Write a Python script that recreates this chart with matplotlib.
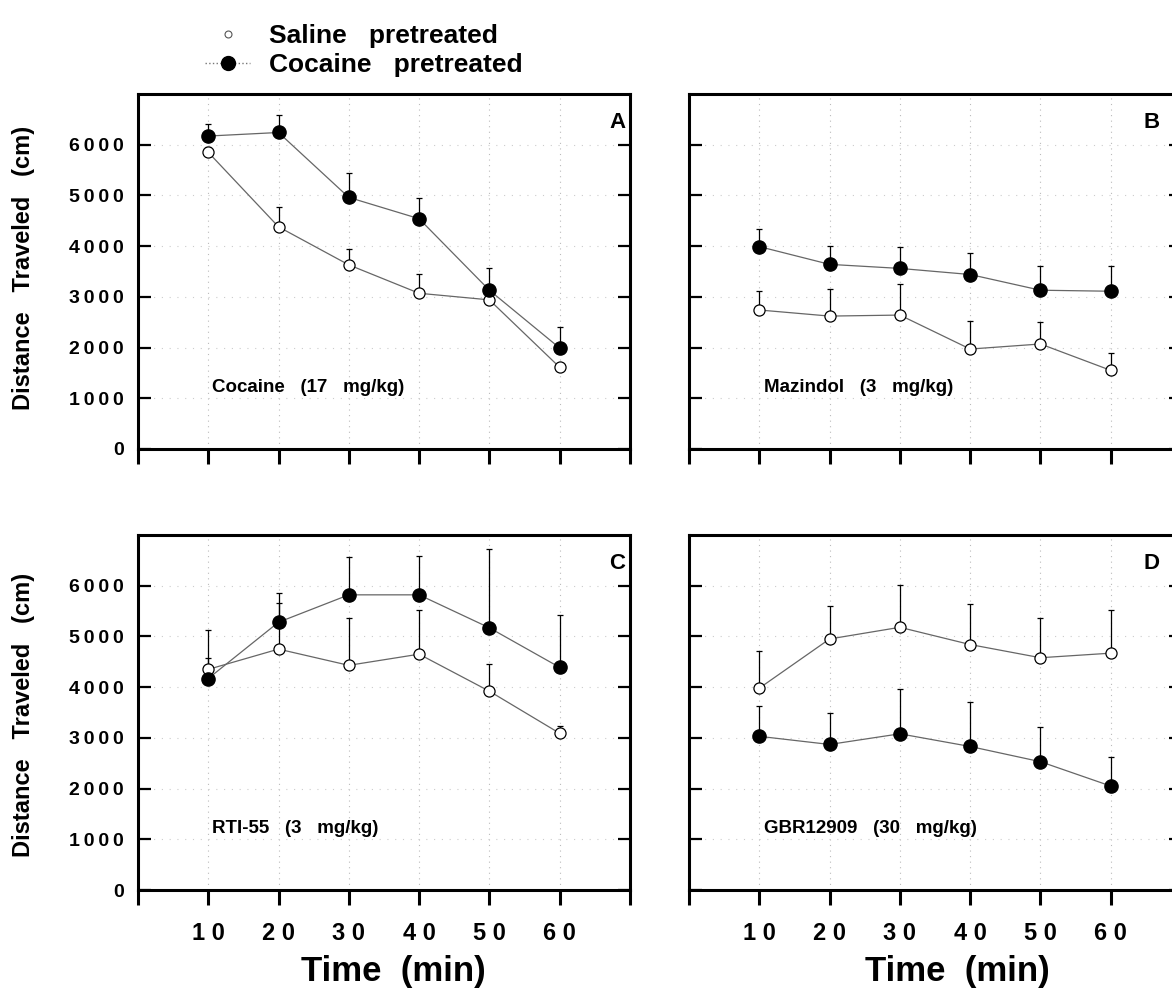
import matplotlib
matplotlib.use("Agg")
import matplotlib.pyplot as plt
from matplotlib.lines import Line2D
import numpy as np

plt.rcParams['font.family'] = ['Liberation Sans', 'DejaVu Sans']
plt.rcParams['font.weight'] = 'bold'

# time points (min)
times = [10, 20, 30, 40, 50, 60]
xtick_labels = ["1 0", "2 0", "3 0", "4 0", "5 0", "6 0"]
yticks = [0, 1000, 2000, 3000, 4000, 5000, 6000]

# distance traveled (cm), means and upper error bars
a_saline = [5850, 4380, 3630, 3070, 2940, 1610]
a_saline_err = [100, 390, 310, 380, 60, 60]
a_cocaine = [6170, 6240, 4960, 4540, 3130, 1990]
a_cocaine_err = [240, 340, 480, 400, 445, 420]

b_saline = [2740, 2620, 2640, 1970, 2070, 1550]
b_saline_err = [380, 530, 610, 560, 440, 340]
b_cocaine = [3990, 3640, 3560, 3440, 3130, 3110]
b_cocaine_err = [350, 370, 430, 430, 470, 490]

c_saline = [4350, 4750, 4430, 4650, 3920, 3090]
c_saline_err = [780, 910, 940, 880, 530, 150]
c_cocaine = [4170, 5280, 5820, 5820, 5170, 4390]
c_cocaine_err = [400, 580, 740, 770, 1560, 1040]

d_saline = [3980, 4950, 5180, 4840, 4580, 4670]
d_saline_err = [740, 650, 830, 800, 780, 850]
d_cocaine = [3030, 2870, 3080, 2830, 2530, 2050]
d_cocaine_err = [590, 620, 890, 870, 690, 570]

letters = ["A", "B", "C", "D"]
drugs = ["Cocaine   (17   mg/kg)", "Mazindol   (3   mg/kg)",
         "RTI-55   (3   mg/kg)", "GBR12909   (30   mg/kg)"]

fig = plt.figure(figsize=(11.72, 9.9), dpi=100)

W, H = 0.4198, 0.3586
boxes = [[0.1177, 0.5465, W, H], [0.5879, 0.5465, W, H],
         [0.1177, 0.1010, W, H], [0.5879, 0.1010, W, H]]
letter_x = [0.974, 0.94, 0.974, 0.94]

panels = [(a_saline, a_saline_err, a_cocaine, a_cocaine_err),
          (b_saline, b_saline_err, b_cocaine, b_cocaine_err),
          (c_saline, c_saline_err, c_cocaine, c_cocaine_err),
          (d_saline, d_saline_err, d_cocaine, d_cocaine_err)]

for i, (sal, sal_e, coc, coc_e) in enumerate(panels):
    ax = fig.add_axes(boxes[i])
    ax.set_xlim(0, 70)
    ax.set_ylim(0, 7000)

    # faint dotted grid like the scanned original
    for t in times:
        ax.axvline(t, color='#bbbbbb', ls=(0, (1, 4)), lw=0.8, zorder=0)
    for v in yticks[1:]:
        ax.axhline(v, color='#cccccc', ls=(0, (1, 6)), lw=0.8, zorder=0)

    ax.errorbar(times, sal, yerr=[np.zeros(6), sal_e], fmt='none',
                ecolor='black', elinewidth=0.9, capsize=2.5, capthick=0.9, zorder=2)
    ax.errorbar(times, coc, yerr=[np.zeros(6), coc_e], fmt='none',
                ecolor='black', elinewidth=0.9, capsize=2.5, capthick=0.9, zorder=2)
    ax.plot(times, sal, color='#666666', lw=0.9, marker='o', ms=8,
            mfc='white', mec='black', mew=0.9, zorder=3)
    ax.plot(times, coc, color='#666666', lw=0.9, marker='o', ms=9.5,
            mfc='black', mec='black', zorder=4)

    for s in ax.spines.values():
        s.set_linewidth(2.2)

    ax.set_xticks([0] + times + [70])
    ax.tick_params(axis='x', direction='out', length=11, width=2.2, pad=12,
                   labelsize=17)
    ax.tick_params(axis='y', direction='in', length=9, width=1.6,
                   left=True, right=True, pad=10, labelsize=14)
    ax.set_yticks(yticks)
    if i >= 2:
        ax.set_xticklabels([""] + xtick_labels + [""], fontweight='bold')
    else:
        ax.set_xticklabels([])
    if i % 2 == 1:
        ax.set_yticklabels([])
    else:
        ax.set_yticklabels(["\u2009".join(str(v)) for v in yticks], fontweight='bold')

    ax.text(letter_x[i], 0.92, letters[i], transform=ax.transAxes,
            ha='center', va='center', fontsize=16, fontweight='bold')
    ax.text(10.6, 1220, drugs[i], ha='left', va='center',
            fontsize=13.5, fontweight='bold')

# shared axis labels
for yc in [268, 715]:
    fig.text(24 / 1172, 1 - yc / 990, "Distance   Traveled   (cm)", rotation=90,
             ha='center', va='center', fontsize=17, fontweight='bold')
for xc in [393, 957]:
    fig.text(xc / 1172, 1 - 972 / 990, "Time  (min)", ha='center', va='center',
             fontsize=25, fontweight='bold')

handles = [Line2D([], [], ls='none', marker='o', ms=5, mfc='white', mec='#555555', mew=0.8),
           Line2D([], [], color='#777777', ls=':', lw=1, marker='o', ms=10,
                  mfc='black', mec='black')]
fig.legend(handles, ["Saline   pretreated", "Cocaine   pretreated"],
           loc='upper left', bbox_to_anchor=(0.155, 1.0), frameon=False,
           prop=dict(weight='bold', size=19), handlelength=1.7,
           handletextpad=0.7, labelspacing=0.2)

plt.savefig('out.png', dpi=100)
